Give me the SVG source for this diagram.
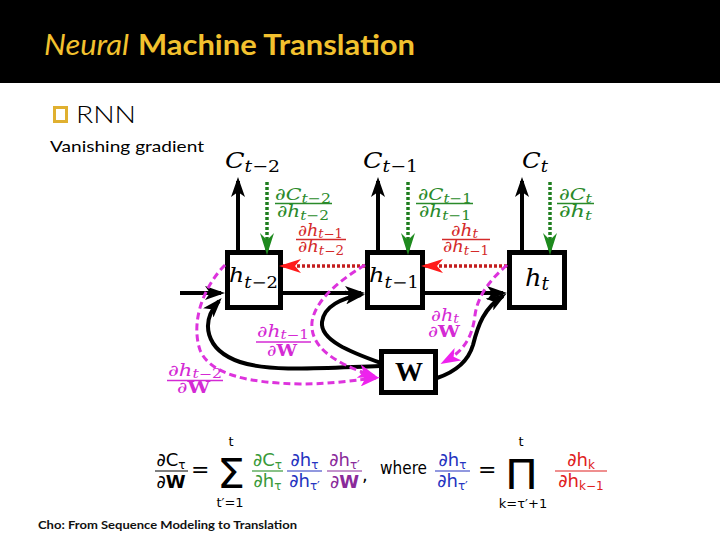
<svg xmlns="http://www.w3.org/2000/svg" width="720" height="540" viewBox="0 0 720 540">
<style>
.box{fill:#fff;stroke:#000;stroke-width:5}
.blk{fill:none;stroke:#000;stroke-width:4}
.grn{fill:none;stroke:#1e7d1e;stroke-width:3.5;stroke-dasharray:3 2}
.red{fill:none;stroke:#c41e1e;stroke-width:3.5;stroke-dasharray:3 2}
.mag{fill:none;stroke:#dd33dd;stroke-width:3;stroke-dasharray:7 4}
.cm{font-family:"DejaVu Serif","Liberation Serif",serif;font-style:italic}
.up{font-style:normal}
.bw{font-style:normal;font-weight:bold}
.gl{fill:#2a8a2a;font-size:17px}
.rl{fill:#d42a2a;font-size:16px}
.ml{fill:#d42ad4;font-size:16px}
.fx{font-family:"DejaVu Sans","Liberation Sans",sans-serif;font-size:18px}
.ui{font-family:Lato,"Open Sans","Liberation Sans",sans-serif}
</style>
<defs>
<marker id="aB" viewBox="0 0 20 14" refX="16" refY="7" markerWidth="20" markerHeight="14" markerUnits="userSpaceOnUse" orient="auto"><path d="M0,0 L20,7 L0,14 L5,7 z" fill="#000"/></marker>
<marker id="aG" viewBox="0 0 22 14" refX="18" refY="7" markerWidth="22" markerHeight="14" markerUnits="userSpaceOnUse" orient="auto"><path d="M0,0 L22,7 L0,14 L7,7 z" fill="#1e8a1e"/></marker>
<marker id="aR" viewBox="0 0 22 14" refX="18" refY="7" markerWidth="22" markerHeight="14" markerUnits="userSpaceOnUse" orient="auto"><path d="M0,0 L22,7 L0,14 L6,7 z" fill="#ff1a1a"/></marker>
<marker id="aM" viewBox="0 0 20 14" refX="16" refY="7" markerWidth="20" markerHeight="14" markerUnits="userSpaceOnUse" orient="auto"><path d="M0,0 L20,7 L0,14 L5,7 z" fill="#ee22ee"/></marker>
</defs>

<rect x="0" y="0" width="720" height="540" fill="#fff"/>
<g id="header">
<rect x="0" y="0" width="720" height="83" fill="#000"/>
<text class="ui" x="44" y="55" font-size="28" font-style="italic" fill="#f2c12e" textLength="85" lengthAdjust="spacingAndGlyphs">Neural</text>
<text class="ui" x="138" y="55" font-size="28" font-weight="bold" fill="#f2c12e" textLength="277" lengthAdjust="spacingAndGlyphs">Machine Translation</text>
</g>
<g id="bullets">
<rect x="54.5" y="107.5" width="12" height="14" fill="none" stroke="#e0b030" stroke-width="3"/>
<text class="ui" x="76" y="123" font-size="23" font-weight="300" fill="#000" textLength="60" lengthAdjust="spacingAndGlyphs">RNN</text>
<text class="ui" x="50" y="152" font-size="16" fill="#000" textLength="154" lengthAdjust="spacingAndGlyphs">Vanishing gradient</text>
</g>

<g id="node-ht2"><rect class="box" x="227.5" y="252.5" width="53" height="55"/>
<text class="cm" x="229" y="282" font-size="21" textLength="49" lengthAdjust="spacingAndGlyphs">h<tspan font-size="16" dy="6">t</tspan><tspan class="up" font-size="16">−2</tspan></text></g>
<g id="node-ht1"><rect class="box" x="367.5" y="252.5" width="55" height="55"/>
<text class="cm" x="369" y="282" font-size="21" textLength="50" lengthAdjust="spacingAndGlyphs">h<tspan font-size="16" dy="6">t</tspan><tspan class="up" font-size="16">−1</tspan></text></g>
<g id="node-ht"><rect class="box" x="509.5" y="252.5" width="55" height="55"/>
<text class="cm" x="525" y="286" font-size="25" textLength="24" lengthAdjust="spacingAndGlyphs">h<tspan font-size="18" dy="4">t</tspan></text></g>
<g id="node-W"><rect class="box" x="381.5" y="351.5" width="54" height="41"/>
<text x="409" y="381" text-anchor="middle" font-family="Liberation Serif,serif" font-weight="bold" font-size="28">W</text></g>

<g id="node-C">
<text class="cm" x="225" y="168" font-size="23" textLength="55" lengthAdjust="spacingAndGlyphs">C<tspan font-size="17" dy="4">t</tspan><tspan class="up" font-size="17">−2</tspan></text>
<text class="cm" x="363" y="168" font-size="23" textLength="55" lengthAdjust="spacingAndGlyphs">C<tspan font-size="17" dy="4">t</tspan><tspan class="up" font-size="17">−1</tspan></text>
<text class="cm" x="522" y="168" font-size="23" textLength="26" lengthAdjust="spacingAndGlyphs">C<tspan font-size="17" dy="4">t</tspan></text>
</g>

<g id="connectors">
<path class="blk" d="M180,293 L221,293" marker-end="url(#aB)"/>
<path class="blk" d="M283,293 L361,293" marker-end="url(#aB)"/>
<path class="blk" d="M425,293 L503,293" marker-end="url(#aB)"/>
<path class="blk" d="M238,250 L238,181" marker-end="url(#aB)"/>
<path class="blk" d="M378,250 L378,181" marker-end="url(#aB)"/>
<path class="blk" d="M522,250 L522,181" marker-end="url(#aB)"/>
<path class="grn" d="M267,182 L267,251" marker-end="url(#aG)"/>
<path class="grn" d="M408,182 L408,251" marker-end="url(#aG)"/>
<path class="grn" d="M550,182 L550,251" marker-end="url(#aG)"/>
<path class="red" d="M365,266 L283,266" marker-end="url(#aR)"/>
<path class="red" d="M507,266 L425,266" marker-end="url(#aR)"/>
<path class="blk" d="M380,366 C320,368 270,372 240,362 C205,350 200,322 219,301" marker-end="url(#aB)"/>
<path class="blk" d="M381,363 C350,352 320,340 322,322 C324,306 342,298 361,295" marker-end="url(#aB)"/>
<path class="blk" d="M437,378 C455,372 468,362 473,345 C478,325 484,308 503,296" marker-end="url(#aB)"/>
<path class="mag" d="M225,265 C205,285 190,320 200,350 C210,375 250,383 300,384 C335,384 355,380 376,378" marker-end="url(#aM)"/>
<path class="mag" d="M365,265 C340,280 315,300 312,322 C310,345 330,362 374,376" marker-end="url(#aM)"/>
<path class="mag" d="M507,265 C490,280 478,295 475,315 C472,340 462,352 444,362" marker-end="url(#aM)"/>
</g>

<g id="labels-green" class="cm">
<text class="gl" x="275" y="200" textLength="56" lengthAdjust="spacingAndGlyphs">∂C<tspan font-size="13" dy="3">t</tspan><tspan class="up" font-size="13">−2</tspan></text>
<line x1="275" y1="203.5" x2="332" y2="203.5" stroke="#2a8a2a" stroke-width="1.3"/>
<text class="gl" x="277" y="217" textLength="52" lengthAdjust="spacingAndGlyphs">∂h<tspan font-size="13" dy="3">t</tspan><tspan class="up" font-size="13">−2</tspan></text>
<text class="gl" x="418" y="200" textLength="54" lengthAdjust="spacingAndGlyphs">∂C<tspan font-size="13" dy="3">t</tspan><tspan class="up" font-size="13">−1</tspan></text>
<line x1="416" y1="203.5" x2="473" y2="203.5" stroke="#2a8a2a" stroke-width="1.3"/>
<text class="gl" x="419" y="217" textLength="52" lengthAdjust="spacingAndGlyphs">∂h<tspan font-size="13" dy="3">t</tspan><tspan class="up" font-size="13">−1</tspan></text>
<text class="gl" x="559" y="200" textLength="33" lengthAdjust="spacingAndGlyphs">∂C<tspan font-size="13" dy="3">t</tspan></text>
<line x1="557" y1="203.5" x2="594" y2="203.5" stroke="#2a8a2a" stroke-width="1.3"/>
<text class="gl" x="559" y="217" textLength="33" lengthAdjust="spacingAndGlyphs">∂h<tspan font-size="13" dy="3">t</tspan></text>
</g>
<g id="labels-red" class="cm">
<text class="rl" x="298" y="236" textLength="45" lengthAdjust="spacingAndGlyphs">∂h<tspan font-size="12" dy="2">t</tspan><tspan class="up" font-size="12">−1</tspan></text>
<line x1="296" y1="239.5" x2="346" y2="239.5" stroke="#d42a2a" stroke-width="1.3"/>
<text class="rl" x="298" y="252" textLength="46" lengthAdjust="spacingAndGlyphs">∂h<tspan font-size="12" dy="3">t</tspan><tspan class="up" font-size="12">−2</tspan></text>
<text class="rl" x="451" y="236" textLength="27" lengthAdjust="spacingAndGlyphs">∂h<tspan font-size="12" dy="2">t</tspan></text>
<line x1="442" y1="239.5" x2="490" y2="239.5" stroke="#d42a2a" stroke-width="1.3"/>
<text class="rl" x="443" y="252" textLength="46" lengthAdjust="spacingAndGlyphs">∂h<tspan font-size="12" dy="3">t</tspan><tspan class="up" font-size="12">−1</tspan></text>
</g>
<g id="labels-magenta" class="cm">
<text class="ml" x="257" y="337" textLength="52" lengthAdjust="spacingAndGlyphs">∂h<tspan font-size="12" dy="2">t</tspan><tspan class="up" font-size="12">−1</tspan></text>
<line x1="256" y1="342" x2="311" y2="342" stroke="#d42ad4" stroke-width="1.3"/>
<text class="ml" x="267" y="356" textLength="30" lengthAdjust="spacingAndGlyphs">∂<tspan class="bw">W</tspan></text>
<text class="ml" x="168" y="376" textLength="54" lengthAdjust="spacingAndGlyphs">∂h<tspan font-size="12" dy="2">t</tspan><tspan class="up" font-size="12">−2</tspan></text>
<line x1="167" y1="380.5" x2="223" y2="380.5" stroke="#d42ad4" stroke-width="1.3"/>
<text class="ml" x="177" y="393" textLength="33" lengthAdjust="spacingAndGlyphs">∂<tspan class="bw">W</tspan></text>
<text class="ml" x="431" y="321" textLength="28" lengthAdjust="spacingAndGlyphs">∂h<tspan font-size="12" dy="2">t</tspan></text>
<text class="ml" x="428" y="337" textLength="32" lengthAdjust="spacingAndGlyphs">∂<tspan class="bw">W</tspan></text>
</g>

<g id="formula" class="fx">
<text x="171" y="466" text-anchor="middle">∂C<tspan font-size="12" dy="3">τ</tspan></text>
<line x1="155" y1="471" x2="188" y2="471" stroke="#000" stroke-width="1.2"/>
<text x="171" y="488" text-anchor="middle">∂<tspan font-weight="bold">W</tspan></text>
<text x="191" y="477" font-size="22">=</text>
<text x="217" y="488" font-size="40" textLength="28" lengthAdjust="spacingAndGlyphs">Σ</text>
<text x="231" y="446" font-size="13" text-anchor="middle">t</text>
<text x="230" y="507" font-size="13" text-anchor="middle">t′=1</text>
<g fill="#3a9a3a">
<text x="267.5" y="466" text-anchor="middle">∂C<tspan font-size="12" dy="3">τ</tspan></text>
<line x1="252" y1="471" x2="283" y2="471" stroke="#3a9a3a" stroke-width="1.2"/>
<text x="267.5" y="487" text-anchor="middle">∂h<tspan font-size="12" dy="3">τ</tspan></text>
</g>
<g fill="#2533c0">
<text x="304.5" y="466" text-anchor="middle">∂h<tspan font-size="12" dy="3">τ</tspan></text>
<line x1="287" y1="471" x2="322" y2="471" stroke="#2533c0" stroke-width="1.2"/>
<text x="304.5" y="487" text-anchor="middle">∂h<tspan font-size="12" dy="3">τ′</tspan></text>
</g>
<g fill="#8a2a9a">
<text x="344.5" y="466" text-anchor="middle">∂h<tspan font-size="12" dy="3">τ′</tspan></text>
<line x1="327" y1="471" x2="362" y2="471" stroke="#8a2a9a" stroke-width="1.2"/>
<text x="344.5" y="488" text-anchor="middle">∂<tspan font-weight="bold">W</tspan></text>
</g>
<text x="362" y="481">,</text>
<text x="380" y="474" font-size="17" textLength="47" lengthAdjust="spacingAndGlyphs">where</text>
<g fill="#2533c0">
<text x="452.5" y="466" text-anchor="middle">∂h<tspan font-size="12" dy="3">τ</tspan></text>
<line x1="435" y1="471" x2="470" y2="471" stroke="#2533c0" stroke-width="1.2"/>
<text x="452.5" y="487" text-anchor="middle">∂h<tspan font-size="12" dy="3">τ′</tspan></text>
</g>
<text x="478" y="477" font-size="22">=</text>
<text x="505" y="489" font-size="40" textLength="33" lengthAdjust="spacingAndGlyphs">Π</text>
<text x="521" y="446" font-size="13" text-anchor="middle">t</text>
<text x="523" y="508" font-size="13" text-anchor="middle">k=τ′+1</text>
<g fill="#e02020">
<text x="581" y="466" text-anchor="middle">∂h<tspan font-size="12" dy="3">k</tspan></text>
<line x1="555" y1="471" x2="607" y2="471" stroke="#e02020" stroke-width="1.2"/>
<text x="581" y="487" text-anchor="middle">∂h<tspan font-size="12" dy="3">k−1</tspan></text>
</g>
</g>

<g id="footer">
<text class="ui" x="38" y="529" font-size="12" font-weight="bold" fill="#111" textLength="259" lengthAdjust="spacingAndGlyphs">Cho: From Sequence Modeling to Translation</text>
</g>
</svg>
